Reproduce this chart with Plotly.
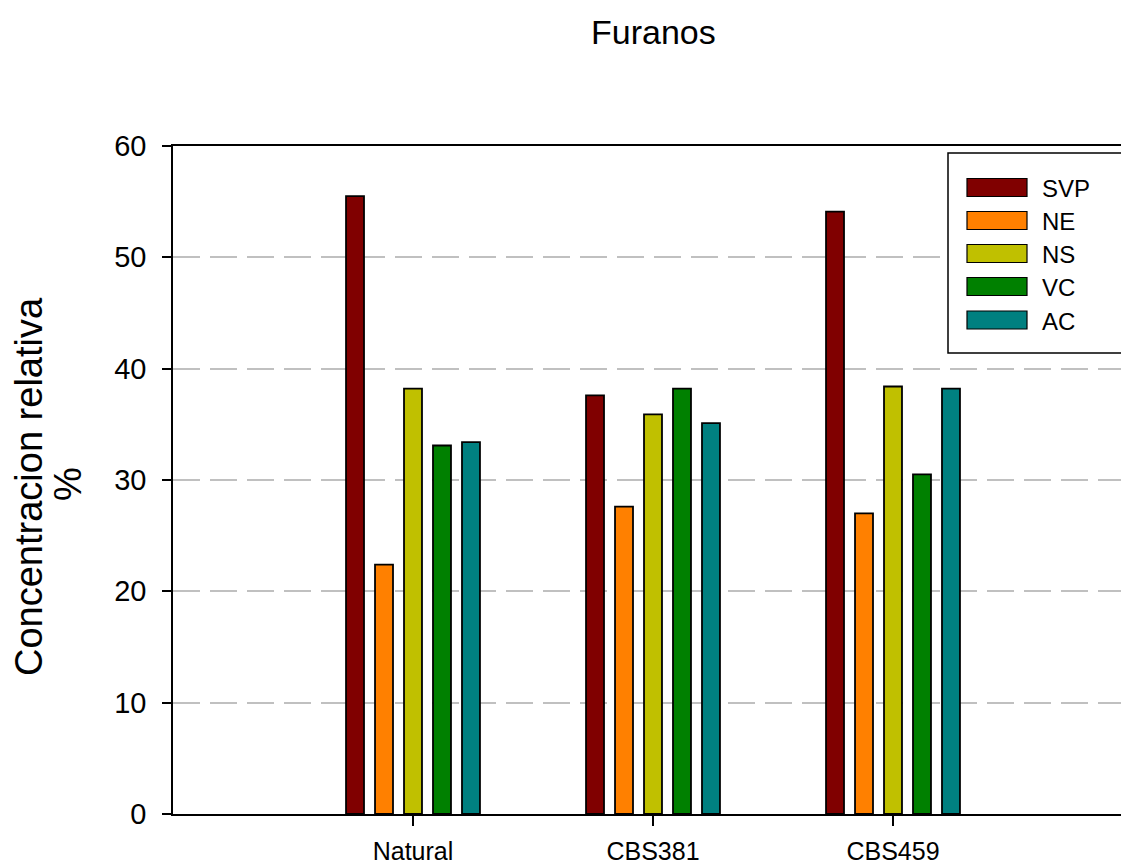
import plotly.graph_objects as go

categories = ["Natural", "CBS381", "CBS459"]
series_names = ["SVP", "NE", "NS", "VC", "AC"]
svp = [55.5, 37.6, 54.1]
ne = [22.4, 27.6, 27.0]
ns = [38.2, 35.9, 38.4]
vc = [33.1, 38.2, 30.5]
ac = [33.4, 35.1, 38.2]
series_values = [svp, ne, ns, vc, ac]
colors = ["#800000", "#ff8000", "#c0c000", "#008000", "#008080"]
y_ticks = [0, 10, 20, 30, 40, 50, 60]

W, H = 1121, 864
L, R, T, B = 173, 0, 146, 864 - 814
FONT = "Liberation Sans, Arial, sans-serif"

fig = go.Figure()
for name, vals, col in zip(series_names, series_values, colors):
    fig.add_trace(go.Bar(
        x=categories, y=vals, name=name,
        marker=dict(color=col, line=dict(color="black", width=1.8)),
        showlegend=False,
    ))

fig.update_layout(
    width=W, height=H,
    margin=dict(l=L, r=R, t=T, b=B, pad=0),
    plot_bgcolor="white", paper_bgcolor="white",
    barmode="group", bargap=0.396, bargroupgap=0.38,
    font=dict(family=FONT, color="black"),
)
fig.update_xaxes(
    range=[-1, 2.95], showline=True, linecolor="black", linewidth=1.5,
    mirror=True, ticks="outside", ticklen=10, tickwidth=1.5, tickcolor="black",
    tickfont=dict(size=25), ticklabelstandoff=4, showgrid=False, zeroline=False,
)
fig.update_yaxes(
    range=[0, 60], tickvals=y_ticks, showline=True, linecolor="black", linewidth=1.5,
    ticks="outside", ticklen=9, tickwidth=1.5, tickcolor="black",
    tickfont=dict(size=29), ticklabelstandoff=10,
    showgrid=True, gridcolor="#c0c0c0", gridwidth=1.5, griddash="27px,10px",
    zeroline=False,
)


def px_x(page_x):
    return (page_x - L) / (W - L - R)


def px_y(page_y):
    return (H - B - page_y) / (H - T - B)


# Title
fig.add_annotation(text="Furanos", xref="paper", yref="paper",
                   x=px_x(653), y=px_y(32), showarrow=False,
                   font=dict(size=34), xanchor="center", yanchor="middle")

# Y axis title (two lines)
fig.add_annotation(text="Concentracion relativa", xref="paper", yref="paper",
                   x=px_x(29), y=px_y(487), showarrow=False, textangle=-90,
                   font=dict(size=38), xanchor="center", yanchor="middle")
fig.add_annotation(text="%", xref="paper", yref="paper",
                   x=px_x(68), y=px_y(484), showarrow=False, textangle=-90,
                   font=dict(size=38), xanchor="center", yanchor="middle")

# Legend (drawn manually to match wide swatches)
fig.add_shape(type="rect", xref="paper", yref="paper",
              x0=px_x(948), x1=px_x(1135), y0=px_y(353), y1=px_y(153),
              line=dict(color="black", width=1.5), fillcolor="white", layer="above")
centers = [187.5, 220.5, 253.5, 286.5, 320]
for name, col, cy in zip(series_names, colors, centers):
    fig.add_shape(type="rect", xref="paper", yref="paper",
                  x0=px_x(967), x1=px_x(1027), y0=px_y(cy + 9), y1=px_y(cy - 9),
                  line=dict(color="black", width=1.2), fillcolor=col, layer="above")
    fig.add_annotation(text=name, xref="paper", yref="paper",
                       x=px_x(1040), y=px_y(cy + 1), showarrow=False,
                       xanchor="left", yanchor="middle", font=dict(size=24))

fig.write_html(
    "out.html",
    config={"displayModeBar": False},
    post_script=(
        "document.body.style.margin='0';"
        "document.body.style.overflow='hidden';"
        "document.documentElement.style.overflow='hidden';"
    ),
)
